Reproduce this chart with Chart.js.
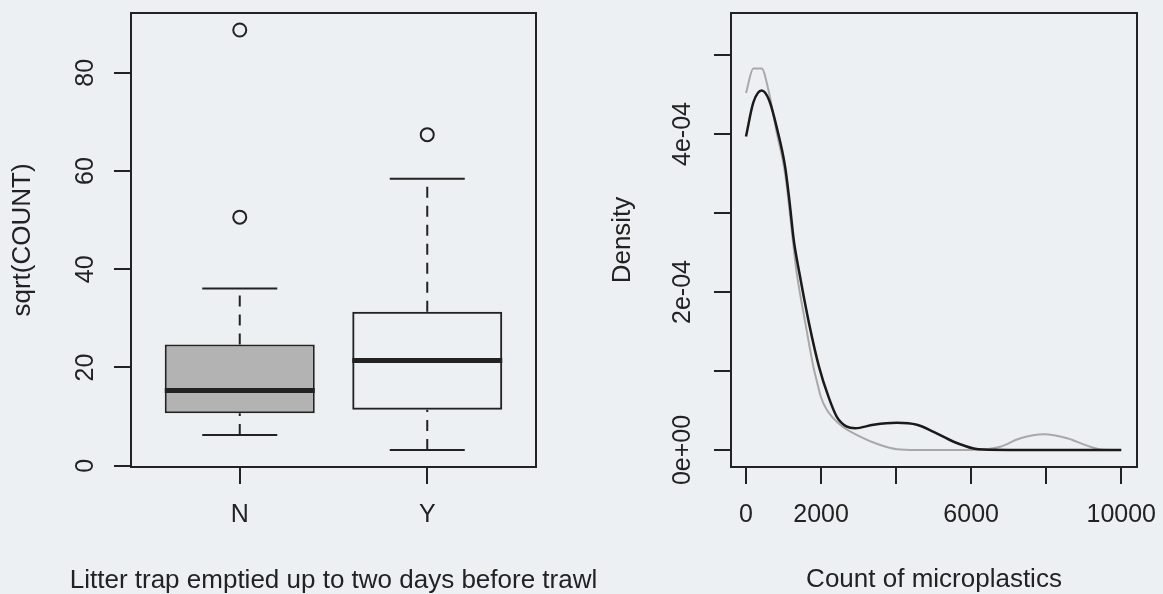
<!DOCTYPE html>
<html><head><meta charset="utf-8">
<script src="https://cdn.jsdelivr.net/npm/chart.js@4.4.0/dist/chart.umd.min.js"></script>
<style>
html,body{margin:0;padding:0;background:#edf0f2;overflow:hidden;}
#wrap{position:relative;width:1163px;height:594px;background:#edf0f2;}
canvas{position:absolute;top:0;}
#c1{left:0;z-index:1;} #c2{left:580px;z-index:2;}
</style></head><body>
<div id="wrap"><canvas id="c1" width="660" height="594"></canvas><canvas id="c2" width="583" height="594"></canvas></div>
<script>
// ---------- data: left panel (boxplot of sqrt(COUNT)) ----------
const boxGroups = ['N', 'Y'];
const boxPositions = [1, 2];
const boxLowerWhisker = [6.25, 3.2];
const boxQ1 = [10.7, 11.4];
const boxMedian = [15.3, 21.4];
const boxQ3 = [24.7, 31.35];
const boxUpperWhisker = [36.1, 58.4];
const boxOutliers = [[88.7, 50.6], [67.4]];
const boxYTicks = [0, 20, 40, 60, 80];

// ---------- data: right panel (density curves) ----------
const densityXTicks = [0, 2000, 4000, 6000, 8000, 10000];
const densityXTickLabels = ['0', '2000', '', '6000', '', '10000'];
const densityYTicks = [0, 1e-4, 2e-4, 3e-4, 4e-4, 5e-4];
const densityYTickLabels = ['0e+00', '', '2e-04', '', '4e-04', ''];

const blackX = [0, 196, 418, 614, 836, 1041, 1156, 1272, 1423, 1681, 1948, 2197, 2420, 2687, 2909, 3398, 4021, 4555, 4999, 5534, 6068, 6334, 7000, 8000, 9000, 10000];
const blackY = [3.97e-4, 4.40e-4, 4.55e-4, 4.43e-4, 4.05e-4, 3.59e-4, 3.16e-4, 2.66e-4, 2.24e-4, 1.60e-4, 1.05e-4, 0.675e-4, 0.42e-4, 0.295e-4, 0.275e-4, 0.32e-4, 0.345e-4, 0.32e-4, 0.23e-4, 0.105e-4, 0.02e-4, 0.005e-4, 0, 0, 0, 0];

const grayX = [0, 196, 418, 596, 818, 1041, 1272, 1352, 1584, 1797, 1904, 1993, 2153, 2509, 3042, 3576, 4021, 4555, 5500, 6200, 6500, 6779, 7313, 7935, 8559, 9093, 9448, 10000];
const grayY = [4.52e-4, 4.83e-4, 4.83e-4, 4.56e-4, 4.02e-4, 3.50e-4, 2.55e-4, 2.24e-4, 1.60e-4, 1.05e-4, 0.84e-4, 0.675e-4, 0.51e-4, 0.32e-4, 0.17e-4, 0.063e-4, 0.01e-4, 0, 0, 0.003e-4, 0.015e-4, 0.042e-4, 0.148e-4, 0.198e-4, 0.148e-4, 0.055e-4, 0.008e-4, 0];

// ---------- styling ----------
const INK = '#222222';
const FONT = '"Liberation Sans", Arial, Helvetica, sans-serif';
Chart.defaults.font.family = FONT;
Chart.defaults.color = INK;

const framePlugin = {
  id: 'frame',
  afterDraw(chart, args, opts) {
    const {left, top, right, bottom} = chart.chartArea;
    const c = chart.ctx; c.save();
    c.strokeStyle = INK; c.lineWidth = 2;
    c.strokeRect(left, top, right - left, bottom - top);
    if (opts && opts.xTitle) {
      c.font = '26px ' + FONT; c.fillStyle = INK; c.textAlign = 'center'; c.textBaseline = 'middle';
      c.fillText(opts.xTitle, (left + right) / 2, opts.xTitleY);
    }
    c.restore();
  }
};

const gridStyle = {display: true, drawOnChartArea: false, drawTicks: true, tickLength: 17, tickWidth: 2, tickColor: INK, color: INK, lineWidth: 2};
const fitY = w => s => { s.width = w; s.paddingTop = 0; s.paddingBottom = 0; };
const fitX = h => s => { s.height = h; s.paddingLeft = 0; s.paddingRight = 0; };

// ---------- left chart ----------
const boxFills = ['#b3b3b3', 'rgba(0,0,0,0)'];
const boxDatasets = [{
  type: 'bar',
  data: boxPositions.map((p, i) => ({x: p, y: [boxQ1[i], boxQ3[i]]})),
  backgroundColor: boxFills, borderColor: INK, borderWidth: 2, borderSkipped: false,
  barPercentage: 0.8, categoryPercentage: 1, order: 10
}];
boxPositions.forEach((p, i) => {
  const seg = (pts, extra) => boxDatasets.push(Object.assign({
    type: 'line', data: pts, borderColor: INK, borderWidth: 2, pointRadius: 0, fill: false, order: 2, tension: 0
  }, extra || {}));
  seg([{x: p, y: boxQ3[i]}, {x: p, y: boxUpperWhisker[i]}], {borderDash: [11, 8]});
  seg([{x: p, y: boxLowerWhisker[i]}, {x: p, y: boxQ1[i]}], {borderDash: [11, 8]});
  seg([{x: p - 0.2, y: boxUpperWhisker[i]}, {x: p + 0.2, y: boxUpperWhisker[i]}]);
  seg([{x: p - 0.2, y: boxLowerWhisker[i]}, {x: p + 0.2, y: boxLowerWhisker[i]}]);
  seg([{x: p - 0.4, y: boxMedian[i]}, {x: p + 0.4, y: boxMedian[i]}], {borderWidth: 5, order: 1});
  seg(boxOutliers[i].map(v => ({x: p, y: v})), {showLine: false, pointRadius: 6.5, pointBorderWidth: 2,
    pointBackgroundColor: 'rgba(0,0,0,0)', pointBorderColor: INK, pointStyle: 'circle'});
});

new Chart(document.getElementById('c1'), {
  type: 'bar',
  data: {datasets: boxDatasets},
  plugins: [framePlugin],
  options: {
    responsive: false, animation: false, events: [],
    layout: {padding: {left: 0, top: 13, right: 124, bottom: 0}},
    plugins: {legend: {display: false}, tooltip: {enabled: false},
      frame: {xTitle: 'Litter trap emptied up to two days before trawl', xTitleY: 581}},
    scales: {
      x: {
        type: 'linear', min: 0.42, max: 2.58, offset: false,
        grid: Object.assign({}, gridStyle, {offset: false}), border: {display: false},
        afterBuildTicks: s => { s.ticks = boxPositions.map(v => ({value: v})); },
        afterFit: fitX(127),
        ticks: {autoSkip: false, maxRotation: 0, padding: 16, font: {size: 25},
          callback: (v, i) => boxGroups[i]}
      },
      y: {
        type: 'linear', min: -0.26, max: 92.16,
        grid: gridStyle, border: {display: false},
        afterBuildTicks: s => { s.ticks = boxYTicks.map(v => ({value: v})); },
        afterFit: fitY(131),
        ticks: {autoSkip: false, minRotation: 90, maxRotation: 90, crossAlign: 'center', padding: 13.5,
          font: {size: 25}, callback: (v, i) => String(boxYTicks[i])},
        title: {display: true, text: 'sqrt(COUNT)', font: {size: 26, lineHeight: 1}, padding: {top: 10, bottom: 0}}
      }
    }
  }
});

// ---------- right chart ----------
new Chart(document.getElementById('c2'), {
  type: 'line',
  data: {datasets: [
    {data: blackX.map((x, i) => ({x: x, y: blackY[i]})), borderColor: '#1a1a1a', borderWidth: 2.5,
      pointRadius: 0, fill: false, cubicInterpolationMode: 'monotone'},
    {data: grayX.map((x, i) => ({x: x, y: grayY[i]})), borderColor: '#a8a8a8', borderWidth: 2,
      pointRadius: 0, fill: false, cubicInterpolationMode: 'monotone'}
  ]},
  plugins: [framePlugin],
  options: {
    responsive: false, animation: false, events: [],
    layout: {padding: {left: 0, top: 13, right: 26, bottom: 0}},
    plugins: {legend: {display: false}, tooltip: {enabled: false}, frame: {}},
    scales: {
      x: {
        type: 'linear', min: -400, max: 10420, offset: false,
        grid: gridStyle, border: {display: false},
        afterBuildTicks: s => { s.ticks = densityXTicks.map(v => ({value: v})); },
        afterFit: fitX(127),
        ticks: {autoSkip: false, maxRotation: 0, padding: 16, font: {size: 25},
          callback: (v, i) => densityXTickLabels[i]},
        title: {display: true, text: 'Count of microplastics', font: {size: 26, lineHeight: 1}, padding: {top: 0, bottom: 1.5}}
      },
      y: {
        type: 'linear', min: -0.215e-4, max: 5.532e-4,
        grid: gridStyle, border: {display: false},
        afterBuildTicks: s => { s.ticks = densityYTicks.map(v => ({value: v})); },
        afterFit: fitY(151),
        ticks: {autoSkip: false, minRotation: 90, maxRotation: 90, crossAlign: 'center', padding: -4.6,
          font: {size: 25}, callback: (v, i) => densityYTickLabels[i]},
        title: {display: true, text: 'Density', font: {size: 26, lineHeight: 1}, padding: {top: 30, bottom: 0}}
      }
    }
  }
});
</script>
</body></html>
